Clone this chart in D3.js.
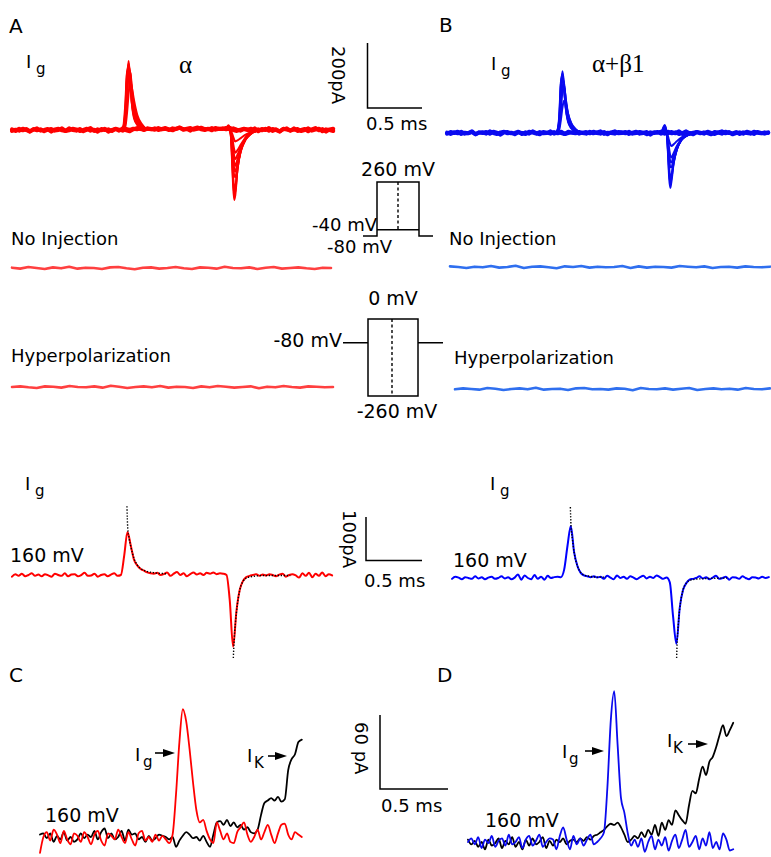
<!DOCTYPE html>
<html><head><meta charset="utf-8">
<script src="https://cdn.jsdelivr.net/npm/d3@7/dist/d3.min.js"></script>
<style>
body{margin:0;background:#fff}
svg{display:block}
text{font-family:"DejaVu Sans",sans-serif;fill:#000}
</style>
</head><body>
<svg id="c" width="771" height="857"></svg>
<script>
// ===================== DATA =====================
// Panel A/B top: gating current families (pA), baseline noise sampled uniformly over 2.92 ms
const topDuration = 2.92;
const aTopNoise = [2,-3,4,-1,3,-4,1,5,-2,0, 3,-5,2,4,-1,-3,5,0,-2,3, -4,1,6,-3,2,-1,4,-5,0,3, -2,5,-1,-4,2,6,3,1,4,2, 5,0,3,6,2,-1,4,7,1,3, -2,5,8,2,0,4,-1,6,3,5, 2,7,0,-3,1,4,2,-2,5,-4, 3,0,6,-3,2,-5,4,1,-2,5, -3,0,3,-4,2,6,-1,3,-5,2, 4];
const aTopNoise2 = [-3,1,-2,4,0,-5,3,-1,2,-4, 1,3,-2,0,5,-3,-1,4,2,-3, 0,4,-2,1,-5,3,0,2,-3,4, 1,-2,3,0,4,2,6,0,5,3, 1,6,2,4,0,5,3,8,2,4, 6,1,4,7,3,2,6,1,4,3, 6,2,5,1,-2,3,0,4,-3,2, -1,4,-2,3,0,-4,2,5,-2,1, 3,-3,0,5,-2,1,4,-4,2,0, -3];
const bTopNoise = [-2,3,0,4,-3,1,-1,5,-4,2, 0,3,-2,4,1,-5,2,3,-1,0, 4,-3,2,-2,5,0,-4,3,1,-2, 3,-1,4,-3,0,2,5,-2,1,3, -1,4,0,-2,3,-4,2,5,-1,0, 3,-3,1,4,-2,0,3,-5,2,1, 4,-2,0,3,-1,5,-3,2,0,-4, 3,1,-2,4,0,-3,2,5,-1,3, -4,0,2,-2,4,1,-3,3,0,-2, 2];
const bTopNoise2 = [1,-3,2,-1,4,-2,0,3,-4,1, 2,-2,5,0,-3,2,4,-1,1,-4, 2,0,-3,4,1,-2,3,-1,0,5, -2,2,0,-3,4,1,-1,3,0,-2, 4,-1,2,5,-3,1,0,-2,3,2, -1,4,-2,0,3,1,-4,2,0,3, -2,1,4,-1,2,-3,0,5,-2,1, 3,-1,2,0,-4,3,1,-2,4,0, -1,3,-3,2,0,-2,4,1,-1,2, 0];

// ON / OFF transients (ms, pA) for each test pulse of the family
const onTimesA = [0.98, 1.01, 1.03, 1.045, 1.06, 1.075, 1.09, 1.11, 1.14, 1.18, 1.23];
const onFamilyA = [
  [0, 5, 40, 150, 212, 150, 80, 35, 15, 6, 0],
  [0, 6, 50, 160, 205, 145, 82, 40, 18, 7, 0],
  [0, 8, 60, 170, 195, 140, 85, 45, 20, 8, 0],
  [0, 10, 80, 175, 185, 150, 100, 55, 25, 10, 0],
  [0, 4, 30, 120, 200, 170, 110, 60, 30, 12, 0],
  [0, 4, 25, 100, 185, 175, 120, 68, 32, 14, 0],
  [0, 3, 20, 90, 170, 180, 130, 75, 35, 15, 0],
  [0, 2, 10, 50, 110, 150, 130, 90, 45, 18, 0]
];
const offTimesA = [1.94, 1.97, 1.99, 2.00, 2.01, 2.02, 2.03, 2.05, 2.08, 2.12, 2.17, 2.24];
const offFamilyA = [
  [0, 15, -20, -90, -170, -215, -200, -120, -60, -25, -8, 0],
  [0, 12, -18, -80, -155, -198, -188, -120, -62, -28, -9, 0],
  [0, 10, -15, -70, -140, -180, -175, -120, -65, -30, -10, 0],
  [0, 6, -10, -50, -100, -140, -145, -110, -65, -32, -12, 0],
  [0, 5, -12, -42, -85, -120, -128, -100, -62, -31, -12, 0],
  [0, 4, -8, -35, -70, -100, -110, -90, -60, -30, -12, 0],
  [0, 3, -6, -28, -55, -80, -90, -76, -52, -28, -11, 0],
  [0, 3, -5, -20, -40, -60, -70, -62, -45, -25, -10, 0],
  [0, 2, -3, -10, -20, -30, -35, -32, -25, -15, -7, 0]
];
const onTimesB = [0.97, 1.00, 1.02, 1.035, 1.05, 1.065, 1.08, 1.10, 1.13, 1.17, 1.22];
const onFamilyB = [
  [0, 5, 35, 140, 190, 140, 75, 35, 14, 5, 0],
  [0, 5, 42, 148, 182, 135, 78, 38, 16, 6, 0],
  [0, 6, 50, 155, 175, 130, 80, 40, 18, 6, 0],
  [0, 4, 30, 110, 165, 150, 95, 50, 22, 8, 0],
  [0, 3, 22, 88, 148, 145, 100, 55, 25, 9, 0],
  [0, 3, 18, 70, 130, 140, 105, 60, 28, 10, 0],
  [0, 2, 10, 40, 80, 100, 90, 60, 30, 12, 0]
];
const offTimesB = [1.95, 1.98, 2.00, 2.01, 2.02, 2.03, 2.04, 2.06, 2.09, 2.13, 2.18, 2.25];
const offFamilyB = [
  [0, 25, -10, -70, -140, -169, -150, -95, -50, -20, -6, 0],
  [0, 22, -9, -62, -125, -155, -140, -92, -50, -21, -7, 0],
  [0, 18, -8, -55, -110, -140, -130, -90, -50, -22, -8, 0],
  [0, 12, -5, -40, -80, -105, -105, -80, -48, -22, -8, 0],
  [0, 10, -4, -32, -65, -88, -90, -70, -44, -21, -8, 0],
  [0, 8, -3, -25, -50, -70, -75, -62, -40, -20, -8, 0],
  [0, 5, -2, -12, -25, -35, -40, -35, -25, -14, -6, 0]
];

// No injection / hyperpolarization records (pA)
const noInjA = [1,-2,3,0,-3,2,-1,4,-2,1,0,-3,2,3,-1,-4,1,2,-2,0,3,-1,-3,2,1,-2,4,0,-1,2,-3,1,3,-2,0,2,-1,-3,1,0];
const hypA   = [0,2,-1,-3,2,1,-2,3,0,-1,2,-2,4,1,-3,0,2,-1,3,-2,1,0,-3,2,-1,3,1,-2,0,2,-4,1,-1,3,0,-2,2,1,-1,0];
const noInjB = [2,0,-3,1,-1,3,-2,0,4,-3,1,2,-1,-4,2,0,3,-2,1,-1,0,3,-3,2,-2,1,0,-2,3,1,-1,2,-3,0,1,-2,2,0,-1,1];
const hypB   = [-1,2,0,-2,3,1,-3,0,2,-1,4,-2,0,1,-3,2,3,-1,0,-2,2,1,-4,3,0,-1,2,-2,1,3,-3,0,2,-1,1,-2,3,0,-1,2];

// 160 mV single traces (pA), dt = 0.03 ms
const lowDt = 0.03;
const low160A = [-4,2,-2,3,-3,0,4,-2,1,-3, 2,-1,-4,3,0,-2,4,-3,1,2, -3,0,5,-2,-1,3,-4,0,2,-3, 1,4,-2,0,
  45,100,68,35,22,14,10,6,4,
  3,5,0,2,6,-2,3,7,0,4,-3,2,6,1,4,0,5,3,6,2,4,3,0,
  -60,-167,-85,-35,-14,-5,-2,
  0,2,-2,1,-1,2,0,-3,1,3,-4,0,2,-1,-6,4,-2,5,-5,3,-2,6,-3,2,-1];
const low160B = [-2,3,1,-3,2,0,-2,4,-1,2, -3,1,3,-2,0,4,-1,2,-3,1, 8,-4,6,0,-3,7,-2,3,-4,5, 0,2,3,2,
  20,75,121,60,28,12,6,4,
  2,4,1,3,-2,5,1,-3,6,0,3,-2,4,1,-3,2,5,-1,3,0,6,2,-2,1,
  -10,-90,-153,-70,-28,-12,-4,
  -2,0,4,-1,2,-3,1,5,-2,0,3,-4,2,1,-2,4,0,-3,2,1,-1,3,0,2];
// exponential fits (dotted), ms / pA
const fitOnA_T  = [1.045, 1.052, 1.065, 1.08, 1.11, 1.14, 1.17, 1.22, 1.30, 1.40];
const fitOnA_V  = [160, 110, 85, 66, 38, 23, 15, 9, 5, 3];
const fitOffA_T = [2.012, 2.02, 2.04, 2.07, 2.10, 2.14, 2.20, 2.30, 2.42, 2.53];
const fitOffA_V = [-193, -150, -88, -36, -15, -6, -3, -1, -1, -1];
const fitOnB_T  = [1.076, 1.082, 1.095, 1.11, 1.14, 1.17, 1.20, 1.25, 1.32, 1.40];
const fitOnB_V  = [165, 121, 90, 60, 28, 13, 7, 4, 2, 2];
const fitOffB_T = [2.042, 2.048, 2.06, 2.07, 2.085, 2.10, 2.13, 2.17, 2.25, 2.35, 2.50];
const fitOffB_V = [-186, -145, -100, -72, -45, -28, -12, -5, -2, -1, 0];

// Panels C / D: Ig vs IK (pA), dt = 0.025 ms
const cdDt = 0.025;
const igC = [-13,0, 4,-3,6,2,-5,5,-2,-6,3,1,-4,4,0,-6,2,5,-3,-7,3,1,-2,6,0,-5,4,-2,-7,3,5,-3,0,-4,2,-3,1,-2,-5,
  2,35,78,105,95,72,45,22,12,14,5,-2,-5,
  12,5,-2,3,-4,-5,4,8,12,2,-4,0,6,-2,4,10,2,-5,3,10,11,2,-2,4,2,0];
const ikC = [2,3,-1,3,-4,1,-2,4,-3,0, -4,-2,3,-1,2,0,5,-2,4,7, -1,3,-2,0,5,-3,6,2,3,-2, 0,-4,1,-3,-1,2,1,0,-2,0, -8,-3,1,4,2,-1,0,-3,1,-4,-8,
  2,12,13,10,14,9,12,8,10,6, 8,4,3,6,18,28,30,32,30,33, 29,31,55,64,68,78,80];
const igD = [0,3,-2,4,-5,2,-1,5,-4,1, 3,-3,6,-2,0,4,-5,2,5,-3, 1,6,-4,0,3,2,-6,5,12,2, -6,5,-2,3,-3,2,6,-2,0,3,
  8,45,100,124,80,36,24,7,-3,
  2,-4,3,-8,0,5,-6,2,-3,4, -7,1,6,-5,2,10,-4,0,5,-6, 3,-3,8,-5,0,-6,7,2,-7,-6];
const ikD = [2,-2,1,-4,0,-6,2,-3,-1,3, -5,1,-2,4,-4,0,-6,2,-3,3, -2,0,4,-5,1,-3,2,0,3,-2, 1,2,0,3,1,4,2,5,
  6,8,10,13,15,14,16,12,6,0, 2,5,3,8,4,10,6,14,5,16, 10,18,14,26,22,18,15,30,42,40, 52,62,55,66,70,78,88,96,87,92,98];

// Voltage protocols (mV)
const protoDepol = [-80, -40, 260];   // holding, pulse base, pulse top
const protoHyper = [-80, 0, -260];    // holding, pulse top, pulse bottom

// ===================== DRAWING =====================
const svg = d3.select('#c');
svg.append('rect').attr('width',771).attr('height',857).attr('fill','#fff');

const RED = '#ff0000', BLUE = '#0a0af0', LRED = '#ff4040', LBLUE = '#2f6fef';

function drawPath(pts, xs, ys, color, w, dash, curve) {
  const gen = d3.line().x(d => xs(d[0])).y(d => ys(d[1])).curve(curve || d3.curveMonotoneX);
  const p = svg.append('path').attr('d', gen(pts)).attr('fill','none')
    .attr('stroke', color).attr('stroke-width', w)
    .attr('stroke-linejoin','round').attr('stroke-linecap','round');
  if (dash) p.attr('stroke-dasharray', dash).attr('stroke-linecap','butt');
  return p;
}
const uniform = (vals, dt) => vals.map((v, i) => [i * dt, v]);
const paired = (ts, vs) => ts.map((t, i) => [t, vs[i]]);

// ---- top families ----
function family(noises, onT, onF, offT, offF, x0, yBase, color) {
  const xs = d3.scaleLinear().domain([0, 1]).range([x0, x0 + 110]);
  const ys = d3.scaleLinear().domain([0, 200]).range([yBase, yBase - 65]);
  noises.forEach(n => drawPath(uniform(n, topDuration / (n.length - 1)), xs, ys, color, 4, null, d3.curveLinear));
  onF.forEach(tr => drawPath(paired(onT, tr), xs, ys, color, 2));
  offF.forEach(tr => drawPath(paired(offT, tr), xs, ys, color, 2));
}
family([aTopNoise, aTopNoise2], onTimesA, onFamilyA, offTimesA, offFamilyA, 12, 130, RED);
family([bTopNoise, bTopNoise2], onTimesB, onFamilyB, offTimesB, offFamilyB, 447, 133, BLUE);

// ---- flat records ----
function flat(vals, x0, x1, yBase, color) {
  const xs = d3.scaleLinear().domain([0, vals.length - 1]).range([x0, x1]);
  const ys = d3.scaleLinear().domain([0, 200]).range([yBase, yBase - 65]);
  drawPath(vals.map((v, i) => [i, v]), xs, ys, color, 2.6, null, d3.curveLinear);
}
flat(noInjA, 12, 331, 268, LRED);
flat(hypA, 12, 333, 387, LRED);
flat(noInjB, 450, 770, 267, LBLUE);
flat(hypB, 455, 770, 389, LBLUE);

// ---- 160 mV traces with fits ----
function single(vals, x0, yBase, color, fits) {
  const xs = d3.scaleLinear().domain([0, 1]).range([x0, x0 + 110]);
  const ys = d3.scaleLinear().domain([0, 100]).range([yBase, yBase - 43]);
  drawPath(uniform(vals, lowDt), xs, ys, color, 2);
  fits.forEach(f => drawPath(paired(f[0], f[1]), xs, ys, '#000', 1.4, '1.3,1.7'));
}
single(low160A, 12, 575, RED, [[fitOnA_T, fitOnA_V], [fitOffA_T, fitOffA_V]]);
single(low160B, 452, 578, '#0000ff', [[fitOnB_T, fitOnB_V], [fitOffB_T, fitOffB_V]]);

// ---- panels C, D ----
function cd(ig, ik, x0, yBase, color) {
  const xs = d3.scaleLinear().domain([0, 1]).range([x0, x0 + 136]);
  const ys = d3.scaleLinear().domain([0, 60]).range([yBase, yBase - 73]);
  drawPath(uniform(ik, cdDt), xs, ys, '#000', 1.8);
  drawPath(uniform(ig, cdDt), xs, ys, color, 1.8);
}
cd(igC, ikC, 40, 837, RED);
cd(igD, ikD, 468, 842, '#0a0aee');

// ---- scale bars ----
function sbar(x, yTop, yBot, xEnd) {
  svg.append('path').attr('d', `M${x},${yTop}V${yBot}H${xEnd}`).attr('fill','none')
    .attr('stroke','#000').attr('stroke-width',1.5);
}
sbar(367.5, 43, 108, 422);
sbar(366, 517, 560.5, 422);
sbar(380, 715, 789, 448);

// ---- voltage protocols ----
const yP1 = d3.scaleLinear().domain([protoDepol[0], protoDepol[2]]).range([236, 182]);
svg.append('path').attr('d', `M363,${yP1(protoDepol[0])}H377V${yP1(protoDepol[2])}H419V${yP1(protoDepol[0])}H433`)
  .attr('fill','none').attr('stroke','#000').attr('stroke-width',1.5);
svg.append('path').attr('d', `M377,${yP1(protoDepol[1])}H419`).attr('stroke','#000').attr('stroke-width',1.5);
svg.append('path').attr('d', `M398,${yP1(protoDepol[2])}V${yP1(protoDepol[1])}`).attr('stroke','#000')
  .attr('stroke-width',1.4).attr('stroke-dasharray','3,2.5');

const yP2 = d3.scaleLinear().domain([protoHyper[1], protoHyper[2]]).range([319, 396]);
svg.append('path').attr('d', `M343,${yP2(protoHyper[0])}H368M418,${yP2(protoHyper[0])}H443`)
  .attr('stroke','#000').attr('stroke-width',1.5);
svg.append('rect').attr('x',368).attr('y',yP2(protoHyper[1])).attr('width',50)
  .attr('height',yP2(protoHyper[2]) - yP2(protoHyper[1])).attr('fill','none').attr('stroke','#000').attr('stroke-width',1.5);
svg.append('path').attr('d', `M392,${yP2(protoHyper[1])}V${yP2(protoHyper[2])}`).attr('stroke','#000')
  .attr('stroke-width',1.4).attr('stroke-dasharray','3,2.5');

// ---- text ----
function T(x, y, s, size, anchor, family) {
  const t = svg.append('text').attr('x', x).attr('y', y).attr('font-size', size).text(s);
  if (anchor) t.attr('text-anchor', anchor);
  if (family) t.style('font-family', family);
  return t;
}
function Isub(x, y, sub, gap) {
  T(x, y, 'I', 18);
  T(x + (gap || 10), y + 6, sub, 15);
}
function R(x, y, s, size) {
  svg.append('text').attr('transform', `translate(${x},${y}) rotate(90)`).attr('font-size', size).text(s);
}
function arrow(x0, x1, y) {
  svg.append('path').attr('d', `M${x0},${y}H${x1 - 10}`).attr('stroke','#000').attr('stroke-width',1.6);
  svg.append('path').attr('d', `M${x1 - 12},${y - 4}L${x1},${y}L${x1 - 12},${y + 4}Z`).attr('fill','#000');
}

T(9, 33, 'A', 20); T(439, 32, 'B', 20); T(9, 682, 'C', 20); T(437, 682, 'D', 20);
Isub(26, 68, 'g'); Isub(491, 70, 'g');
Isub(25, 490, 'g'); Isub(490, 490, 'g');
T(179, 73, 'α', 25, null, '"Liberation Serif",serif');
T(592, 72, 'α+β1', 25, null, '"Liberation Serif",serif');

R(332, 46, '200pA', 18);
T(366, 130, '0.5 ms', 18);
R(343, 510, '100pA', 18);
T(364, 587, '0.5 ms', 18);
R(355, 722, '60 pA', 18);
T(381, 812, '0.5 ms', 18);

T(11, 245, 'No Injection', 18);
T(449, 245, 'No Injection', 18);
T(11, 362, 'Hyperpolarization', 18);
T(454, 364, 'Hyperpolarization', 18);

T(398, 176, '260 mV', 19, 'middle');
T(377, 231, '-40 mV', 18, 'end');
T(392, 253, '-80 mV', 18, 'end');
T(393, 305, '0 mV', 19, 'middle');
T(342, 347, '-80 mV', 19, 'end');
T(397, 418, '-260 mV', 19, 'middle');

T(10, 562, '160 mV', 19);
T(453, 567, '160 mV', 19);
T(45, 822, '160 mV', 19);
T(485, 827, '160 mV', 19);

// C / D annotations
Isub(135, 761, 'g', 8); arrow(155, 175, 753);
Isub(247, 762, 'K', 7); arrow(268, 287, 756);
Isub(562, 758, 'g', 7); arrow(585, 604, 751);
Isub(667, 747, 'K', 6); arrow(688, 708, 744);
</script>
</body></html>
